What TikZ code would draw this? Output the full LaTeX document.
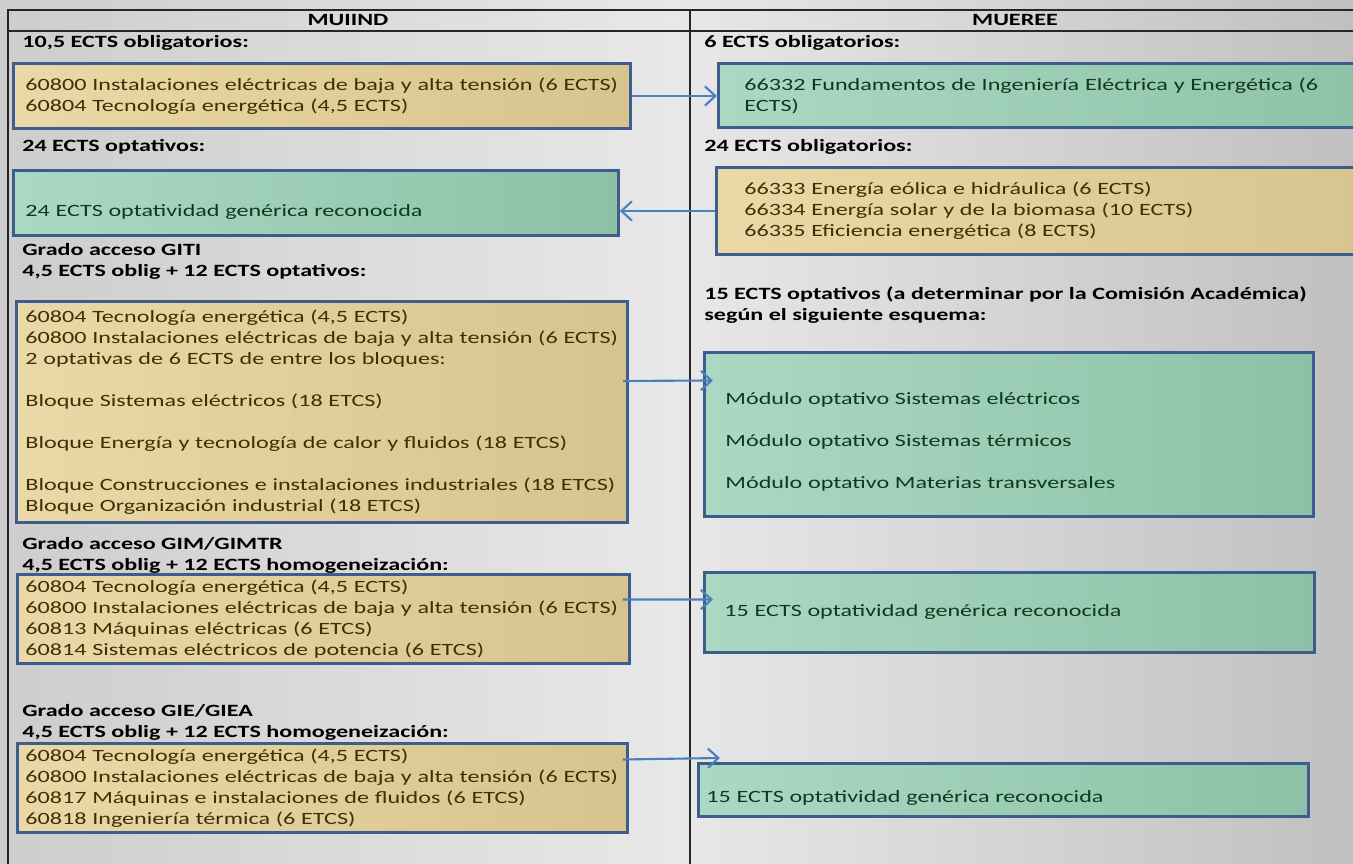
\documentclass[tikz,border=0pt]{standalone}
\usepackage{fontspec}
\setmainfont{Carlito}[FakeStretch=1.4]
\usepackage{tikz}
\usetikzlibrary{arrows.meta}
\definecolor{bgside}{HTML}{CDCDCD}
\definecolor{bgmid}{HTML}{E8E8E8}
\definecolor{bgright}{HTML}{C0C0C0}
\definecolor{boxblue}{HTML}{3D5E8C}
\definecolor{arrowblue}{HTML}{4A7FC1}
\definecolor{beigeL}{HTML}{EAD8A6}
\definecolor{beigeR}{HTML}{D7C38D}
\definecolor{greenL}{HTML}{AAD9C3}
\definecolor{greenR}{HTML}{8EC0A7}
\definecolor{textbrown}{HTML}{3B3104}
\definecolor{textgreen}{HTML}{0D3A1E}

\tikzset{
    every node/.style={font=\fontsize{9.8}{11.95}\selectfont, inner sep=0pt},
    title/.style={font=\fontsize{9.8}{11.95}\selectfont\bfseries, anchor=west, align=left},
    oldbox/.style={draw=boxblue, line width=1.7pt, left color=beigeL, right color=beigeR,
        text=textbrown, anchor=north west, align=left},
    newbox/.style={draw=boxblue, line width=1.7pt, left color=greenL, right color=greenR,
        text=textgreen, anchor=north west, align=left},
    drop/.style={execute at begin node={\rule{0pt}{#1}}},
    link/.style={draw=arrowblue, line width=1.2pt, -{Straight Barb[length=6pt,width=11pt]}},
    tableline/.style={draw=black!85, line width=0.8pt}
}

\begin{document}
\begin{tikzpicture}[x=0.02cm,y=-0.02cm]
    \clip (0,0) rectangle (1353,864);
    \shade[left color=bgside, right color=bgright, middle color=bgmid] (0,0) rectangle (1353,864);

    \draw[tableline] (8,864) -- (8,10) -- (1353,10);
    \draw[tableline] (8,31) -- (1353,31);
    \draw[tableline] (690,10) -- (690,864);

    \node[title, anchor=center] (muiind) at (348,20) {MUIIND};
    \node[title, anchor=center] (mueree) at (1015,20) {MUEREE};

    \node[title] (h1) at (22,43) {10,5 ECTS obligatorios:};
    \node[title] (h2) at (704,43) {6 ECTS obligatorios:};
    \node[title] (h3) at (22,147) {24 ECTS optativos:};
    \node[title] (h4) at (704,147) {24 ECTS obligatorios:};
    \node[title] (h5) at (22,261.5) {Grado acceso GITI\\4,5 ECTS oblig + 12 ECTS optativos:};
    \node[title] (h6) at (704,305.5) {15 ECTS optativos (a determinar por la Comisión Académica)\\según el siguiente esquema:};
    \node[title] (h7) at (22,555) {Grado acceso GIM/GIMTR\\4,5 ECTS oblig + 12 ECTS homogeneización:};
    \node[title] (h8) at (22,722) {Grado acceso GIE/GIEA\\4,5 ECTS oblig + 12 ECTS homogeneización:};

    \node[oldbox, inner xsep=0.24cm, text width=11.86cm, minimum height=1.3cm] (a1) at (12,62)
        {60800 Instalaciones eléctricas de baja y alta tensión (6 ECTS)\\60804 Tecnología energética (4,5 ECTS)};
    \node[newbox, inner xsep=0.52cm, text width=12.56cm, minimum height=1.28cm] (b1) at (717,62)
        {66332 Fundamentos de Ingeniería Eléctrica y Energética (6\\ECTS)};
    \node[newbox, drop=16.6pt, inner xsep=0.24cm, text width=11.62cm, minimum height=1.3cm] (a2) at (12,169)
        {24 ECTS optatividad genérica reconocida};
    \node[oldbox, inner xsep=0.56cm, text width=12.48cm, minimum height=1.74cm] (b2) at (715,166)
        {66333 Energía eólica e hidráulica (6 ECTS)\\66334 Energía solar y de la biomasa (10 ECTS)\\66335 Eficiencia energética (8 ECTS)};
    \node[oldbox, inner xsep=0.18cm, text width=11.86cm, minimum height=4.42cm] (a3) at (15,300)
        {60804 Tecnología energética (4,5 ECTS)\\60800 Instalaciones eléctricas de baja y alta tensión (6 ECTS)\\2 optativas de 6 ECTS de entre los bloques:\\[0.42cm]
         Bloque Sistemas eléctricos (18 ETCS)\\[0.42cm]
         Bloque Energía y tecnología de calor y fluidos (18 ETCS)\\[0.42cm]
         Bloque Construcciones e instalaciones industriales (18 ETCS)\\Bloque Organización industrial (18 ETCS)};
    \node[newbox, drop=15.4pt, inner xsep=0.42cm, text width=11.34cm, minimum height=3.28cm] (b3) at (703,351)
        {Módulo optativo Sistemas eléctricos\\[0.42cm]Módulo optativo Sistemas térmicos\\[0.42cm]Módulo optativo Materias transversales};
    \node[oldbox, inner xsep=0.16cm, text width=11.92cm, minimum height=1.78cm] (a4) at (16,573)
        {60804 Tecnología energética (4,5 ECTS)\\60800 Instalaciones eléctricas de baja y alta tensión (6 ECTS)\\60813 Máquinas eléctricas (6 ETCS)\\60814 Sistemas eléctricos de potencia (6 ETCS)};
    \node[newbox, inner xsep=0.40cm, text width=11.40cm, minimum height=1.6cm] (b4) at (703,571)
        {15 ECTS optatividad genérica reconocida};
    \node[oldbox, inner xsep=0.16cm, text width=11.88cm, minimum height=1.78cm] (a5) at (16,742)
        {60804 Tecnología energética (4,5 ECTS)\\60800 Instalaciones eléctricas de baja y alta tensión (6 ECTS)\\60817 Máquinas e instalaciones de fluidos (6 ETCS)\\60818 Ingeniería térmica (6 ETCS)};
    \node[newbox, drop=16pt, inner xsep=0.16cm, text width=11.88cm, minimum height=1.06cm] (b5) at (697,762)
        {15 ECTS optatividad genérica reconocida};

    \draw[link] (a1.east) -- (a1.east -| b1.west);
    \draw[link] (b2.west) -- (b2.west -| a2.east);
    \draw[link] ([xshift=-0.12cm,yshift=0.62cm]a3.east) -- ([xshift=0.2cm,yshift=1.08cm]b3.west);
    \draw[link] ([xshift=-0.16cm,yshift=0.39cm]a4.east) -- ([xshift=0.2cm,yshift=0.26cm]b4.west);
    \draw[link] ([xshift=-0.12cm,yshift=0.57cm]a5.east) -- ([xshift=0.46cm,yshift=0.08cm]b5.north west);
\end{tikzpicture}
\end{document}
